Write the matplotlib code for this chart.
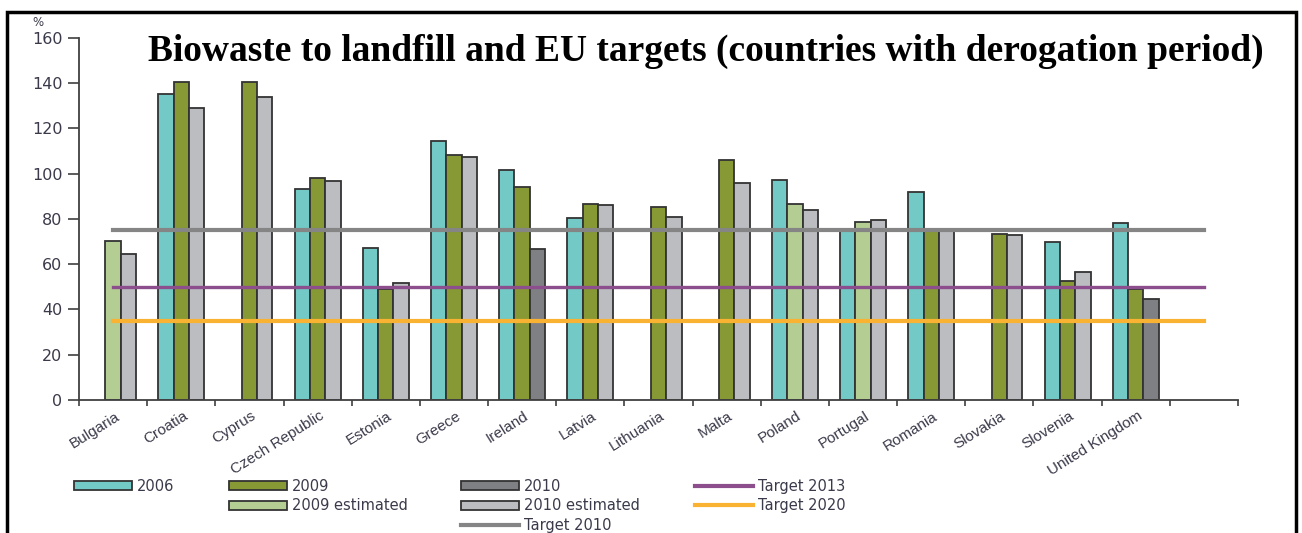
import matplotlib.pyplot as plt
import matplotlib.patches as mpatches
from matplotlib.lines import Line2D
import numpy as np

nan = np.nan

countries = ['Bulgaria', 'Croatia', 'Cyprus', 'Czech Republic', 'Estonia', 'Greece',
             'Ireland', 'Latvia', 'Lithuania', 'Malta', 'Poland', 'Portugal',
             'Romania', 'Slovakia', 'Slovenia', 'United Kingdom', '']

v2006 = [nan, 135, nan, 93, 67.3, 114.5, 101.4, 80.2, nan, nan, 97.2, 74.5, 92, nan, 69.9, 78, nan]
v2009 = [nan, 140.5, 140.5, 98, 49, 108, 94, 86.7, 85.4, 106.2, nan, nan, 74.5, 73.3, 52.4, 48.9, nan]
v2009_est = [70.1, nan, nan, nan, nan, nan, nan, nan, nan, nan, 86.7, 78.5, nan, nan, nan, nan, nan]
v2010 = [nan, nan, nan, nan, nan, nan, 66.7, nan, nan, nan, nan, nan, nan, nan, nan, 44.8, nan]
v2010_est = [64.3, 129, 134, 96.7, 51.8, 107.5, nan, 86.3, 80.8, 95.7, 84.1, 79.4, 75, 72.9, 56.5, nan, nan]

target_2010 = [75] * 17
target_2013 = [50] * 17
target_2020 = [35] * 17

c2006 = '#72C9C6'
c2009 = '#879935'
c2009e = '#B4CD93'
c2010 = '#7F8084'
c2010e = '#BCBDC1'
cT2010 = '#858585'
cT2013 = '#8C4E8C'
cT2020 = '#F9B232'
edge = '#333333'
txt = '#3a3a4a'

fig = plt.figure(figsize=(13.02, 5.33), dpi=100)
ax = fig.add_axes([79 / 1302, 1 - 400 / 533, (1238 - 79) / 1302, (400 - 37.7) / 533])

x = np.arange(len(countries))
w = 0.225
bar_kw = dict(width=w, edgecolor=edge, linewidth=1.3, zorder=2)
ax.bar(x - w, v2006, color=c2006, **bar_kw)
ax.bar(x, v2009, color=c2009, **bar_kw)
ax.bar(x, v2009_est, color=c2009e, **bar_kw)
ax.bar(x + w, v2010, color=c2010, **bar_kw)
ax.bar(x + w, v2010_est, color=c2010e, **bar_kw)

ax.plot(x, target_2013, color=cT2013, lw=2.4, zorder=3)
ax.plot(x, target_2020, color=cT2020, lw=3, zorder=3)
ax.plot(x, target_2010, color=cT2010, lw=3, zorder=3)

ax.set_xlim(-0.5, len(countries) - 0.5)
ax.set_ylim(0, 160)
ax.set_yticks(range(0, 161, 20))
ax.tick_params(axis='y', length=8, width=1.2, color='#404040', pad=4,
               labelsize=11.5, labelcolor=txt)
ax.set_xticks(x)
ax.set_xticklabels([])
ax.set_xticks(np.arange(-0.5, len(countries)), minor=True)
ax.tick_params(axis='x', which='major', length=0)
ax.tick_params(axis='x', which='minor', length=4, width=1.2, color='#404040')
for i, name in enumerate(countries):
    ax.text(i + 0.02, -4.0, name, rotation=32, rotation_mode='anchor', ha='right', va='top',
            fontsize=11, color=txt, family='Liberation Sans')

for s in ['top', 'right']:
    ax.spines[s].set_visible(False)
for s in ['left', 'bottom']:
    ax.spines[s].set_color('#404040')
    ax.spines[s].set_linewidth(1.3)

fig.text(38 / 1302, 1 - 22 / 533, '%', fontsize=8.5, color=txt, ha='center', va='center')
fig.text(706 / 1302, 1 - 61 / 533,
         'Biowaste to landfill and EU targets (countries with derogation period)',
         family='Liberation Serif', weight='bold', fontsize=27, ha='center', va='baseline')

# legend, laid out in four columns like the original
def box(c):
    return mpatches.Patch(facecolor=c, edgecolor=edge, linewidth=1.3)

def line(c):
    return Line2D([], [], color=c, lw=3)

columns = [
    (74, [box(c2006)], ['2006']),
    (229, [box(c2009), box(c2009e)], ['2009', '2009 estimated']),
    (461, [box(c2010), box(c2010e), line(cT2010)], ['2010', '2010 estimated', 'Target 2010']),
    (695, [line(cT2013), line(cT2020)], ['Target 2013', 'Target 2020']),
]
for xpos, handles, labels in columns:
    leg = fig.legend(handles, labels, loc='upper left',
                     bbox_to_anchor=(xpos / 1302, 1 - 479 / 533),
                     frameon=False, fontsize=10.5, borderpad=0, borderaxespad=0,
                     handlelength=4.0, handleheight=0.6, handletextpad=0.3,
                     labelspacing=0.3)
    for t in leg.get_texts():
        t.set_color(txt)

fig.add_artist(mpatches.Rectangle((7 / 1302, -0.05), (1296 - 7) / 1302, 1.05 - 12 / 533,
                                  transform=fig.transFigure, fill=False,
                                  edgecolor='black', linewidth=2.5, clip_on=False))

fig.savefig('out.png', dpi=100)
